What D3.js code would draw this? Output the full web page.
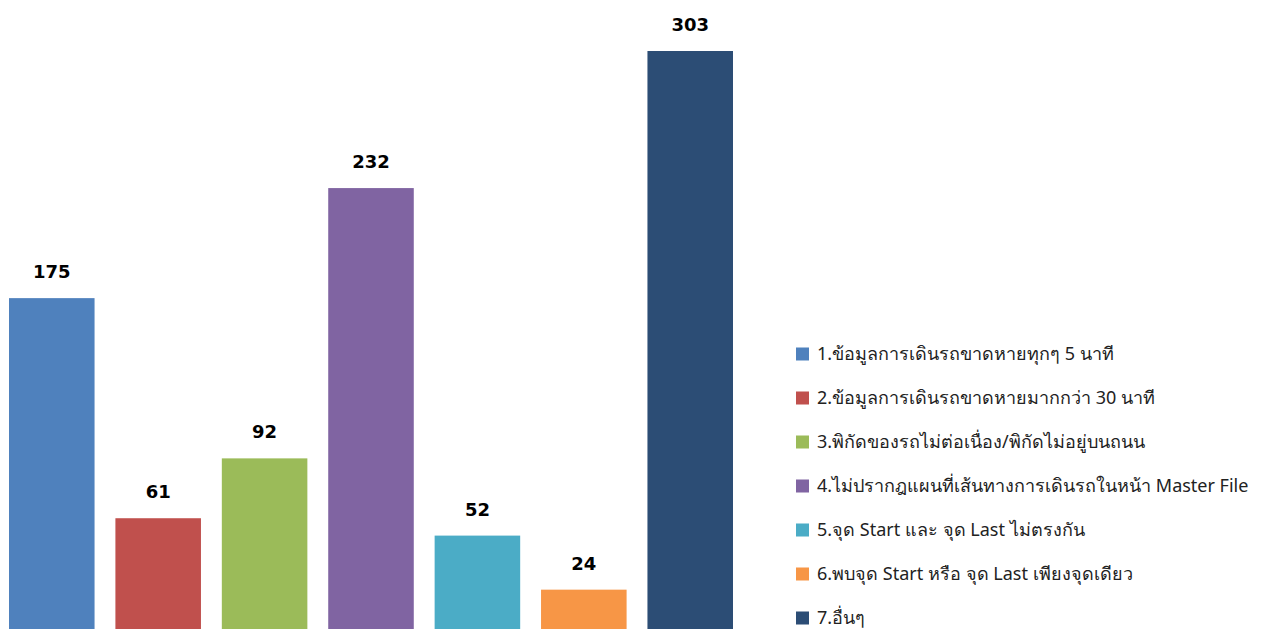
<!DOCTYPE html>
<html>
<head>
<meta charset="utf-8">
<script src="https://cdn.jsdelivr.net/npm/d3@7"></script>
<style>
  body { margin: 0; background: #fff; }
  svg { display: block; }
  .val { font-family: "DejaVu Sans", Tahoma, sans-serif; font-weight: bold; font-size: 18px; fill: #000; }
  .leg { font-family: Tahoma, "Noto Sans", "DejaVu Sans", sans-serif; font-size: 18px; fill: #222; }
</style>
</head>
<body>
<svg id="chart" width="1264" height="629"></svg>
<script>
// data
const labels = [
  '1.ข้อมูลการเดินรถขาดหายทุกๆ 5 นาที',
  '2.ข้อมูลการเดินรถขาดหายมากกว่า 30 นาที',
  '3.พิกัดของรถไม่ต่อเนื่อง/พิกัดไม่อยู่บนถนน',
  '4.ไม่ปรากฎแผนที่เส้นทางการเดินรถในหน้า Master File',
  '5.จุด Start และ จุด Last ไม่ตรงกัน',
  '6.พบจุด Start หรือ จุด Last เพียงจุดเดียว',
  '7.อื่นๆ'
];
const values = [175, 61, 92, 232, 52, 24, 303];
const colors = ['#4f81bd', '#c0504d', '#9bbb59', '#8064a2', '#4bacc6', '#f79646', '#2c4d75'];

const svg = d3.select('#chart');

const x = d3.scaleBand()
  .domain(labels)
  .range([9, 733])
  .paddingInner(0.196)
  .paddingOuter(0);

const y = d3.scaleLinear()
  .domain([0, 303])
  .range([636, 51]);

// bars
svg.selectAll('.bar')
  .data(labels)
  .join('rect')
    .attr('class', 'bar')
    .attr('x', d => x(d))
    .attr('y', (d, i) => y(values[i]))
    .attr('width', x.bandwidth())
    .attr('height', (d, i) => y(0) - y(values[i]))
    .attr('fill', (d, i) => colors[i]);

// value labels
svg.selectAll('.val')
  .data(labels)
  .join('text')
    .attr('class', 'val')
    .attr('x', d => x(d) + x.bandwidth() / 2)
    .attr('y', (d, i) => y(values[i]) - 20)
    .attr('text-anchor', 'middle')
    .text((d, i) => values[i]);

// legend
const legY = d3.scalePoint()
  .domain(labels)
  .range([354, 618]);

const leg = svg.append('g');
leg.selectAll('rect')
  .data(labels)
  .join('rect')
    .attr('x', 796)
    .attr('y', d => legY(d) - 6.5)
    .attr('width', 13)
    .attr('height', 13)
    .attr('fill', (d, i) => colors[i]);
leg.selectAll('text')
  .data(labels)
  .join('text')
    .attr('class', 'leg')
    .attr('x', 817)
    .attr('y', d => legY(d))
    .attr('dy', '0.35em')
    .text(d => d);
</script>
</body>
</html>
